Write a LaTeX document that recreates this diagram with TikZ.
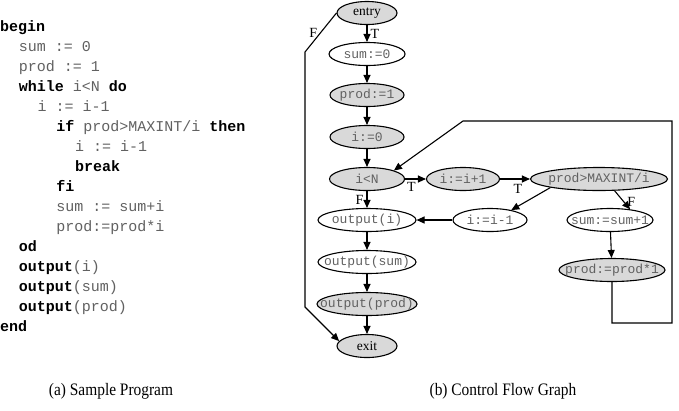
\documentclass[tikz,border=0pt]{standalone}
\usepackage{fontspec}
\setmainfont{Liberation Serif}
\setmonofont{Liberation Mono}
\usetikzlibrary{arrows.meta,shapes.geometric}

\newcommand{\kw}[1]{\textbf{\color{black}#1}}

\begin{document}
\begin{tikzpicture}[
  x=1pt,y=-1pt,
  every node/.style={font=\fontsize{13.5}{16}\selectfont},
  code/.style={anchor=base west,inner sep=0pt,text=black!62,font=\fontsize{15}{18}\selectfont\ttfamily},
  blk/.style={ellipse,draw,line width=1.1pt,inner xsep=-20pt,inner ysep=0pt,minimum height=23},
  shd/.style={blk,fill=black!15},
  mono/.style={font=\fontsize{13}{16}\selectfont\ttfamily,text=black!62},
  lbl/.style={font=\fontsize{14}{16}\selectfont,inner sep=3pt},
  figcap/.style={font=\fontsize{17.5}{20}\selectfont\addfontfeature{FakeStretch=0.88},anchor=base},
  >={Triangle[length=8pt,width=7pt]}
]
\useasboundingbox (0,0) rectangle (679,410);

% (a) the program
\foreach \ind/\txt [count=\k from 0] in {
  0/{\kw{begin}},
  1/{sum := 0},
  1/{prod := 1},
  1/{\kw{while} i<N \kw{do}},
  2/{i := i-1},
  3/{\kw{if} prod>MAXINT/i \kw{then}},
  4/{i := i-1},
  4/{\kw{break}},
  3/{\kw{fi}},
  3/{sum := sum+i},
  3/{prod:=prod*i},
  1/{\kw{od}},
  1/{\kw{output}(i)},
  1/{\kw{output}(sum)},
  1/{\kw{output}(prod)},
  0/{\kw{end}}} {
  \node[code] (ln\k) at (\ind*18.7, 31+20*\k) {\txt};
}

% (b) the graph
\node[shd,minimum width=60] (entry) at (367,13) {entry};
\node[blk,mono,minimum width=76] (s0) at (367,54) {sum:=0};
\node[shd,mono,minimum width=74] (p1) at (367,95) {prod:=1};
\node[shd,mono,minimum width=74] (i0) at (367,137) {i:=0};
\node[shd,mono,minimum width=75] (iN) at (367,179) {i<N};
\node[shd,mono,minimum width=73] (inc) at (463,179) {i:=i+1};
\node[shd,mono,minimum width=137] (test) at (599,179) {prod>MAXINT/i};
\node[blk,mono,minimum width=98] (outi) at (367,220) {output(i)};
\node[blk,mono,minimum width=74] (dec) at (490,220) {i:=i-1};
\node[blk,mono,minimum width=86] (sum) at (610,220) {sum:=sum+1};
\node[shd,mono,minimum width=106] (prod) at (612,270) {prod:=prod*1};
\node[blk,mono,minimum width=98] (outs) at (367,262) {output(sum)};
\node[shd,mono,minimum width=100] (outp) at (367,304) {output(prod)};
\node[shd,minimum width=60] (exit) at (367,346) {exit};

\coordinate (fa) at (305,52);
\coordinate (fb) at (305,307);
\coordinate (rb) at (672,323);
\coordinate (rt) at (672,121);
\coordinate (lt) at (463,121);

\begin{scope}[line width=1.1pt]
\draw[->] (entry) -- node[lbl,right] {T} (s0);
\draw[->] (s0) -- (p1);
\draw[->] (p1) -- (i0);
\draw[->] (i0) -- (iN);
\draw[->] (iN) -- node[lbl,below,pos=0.3] {T} (inc);
\draw[->] (inc) -- node[lbl,below,pos=0.6,yshift=-2pt] {T} (test);
\draw[->] (test.190) -- (dec.25);
\draw[->] (test.-37) -- node[lbl,right,pos=0.6] {F} (sum.28);
\draw[->] (sum) -- (prod);
\draw[->] (dec) -- (outi);
\draw[->] (iN) -- node[lbl,left] {F} (outi);
\draw[->] (outi) -- (outs);
\draw[->] (outs) -- (outp);
\draw[->] (outp) -- (exit);
\draw[->] (prod) -- (prod |- rb) -- (rb) -- (rt) -- (lt) -- (iN.north east);
\draw[->] (entry.west) -- node[lbl,left] {F} (fa) -- (fb) -- (exit.170);
\end{scope}

\node[figcap] (capa) at (111,395) {(a) Sample Program};
\node[figcap] (capb) at (503,395) {(b) Control Flow Graph};
\end{tikzpicture}
\end{document}
